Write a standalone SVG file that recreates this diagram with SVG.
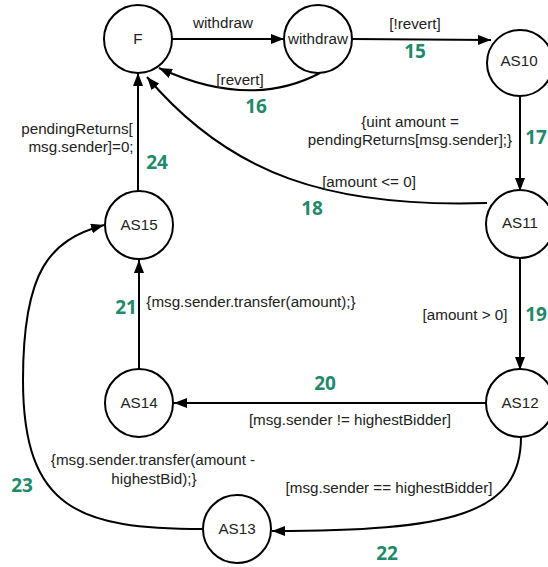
<svg xmlns="http://www.w3.org/2000/svg" width="548" height="567" viewBox="0 0 548 567">
<defs>
<style>
.node circle{fill:#fff;stroke:#000;stroke-width:2}
.node text,.lbl{font-family:"Liberation Sans",Arial,sans-serif;font-size:15.2px;fill:#222;text-anchor:middle}
.num{font-family:"Open Sans","Liberation Sans",sans-serif;font-size:19px;font-weight:bold;fill:#1f8a6a;text-anchor:middle}
.edge{fill:none;stroke:#000;stroke-width:2;marker-end:url(#arr)}
</style>
<marker id="arr" markerUnits="userSpaceOnUse" markerWidth="14" markerHeight="10" refX="13" refY="5" orient="auto">
<path d="M0,0 L13,5 L0,10 Z" fill="#000"/>
</marker>
</defs>
<rect width="548" height="567" fill="#fff"/>
<g id="connectors">
<path class="edge" d="M172,39 L284,39"/>
<path class="edge" d="M352,39 L491,40"/>
<path class="edge" d="M320,73 Q250,110 159,68"/>
<path class="edge" d="M520,96 L520,191"/>
<path class="edge" d="M487,203 C330,208 230,175 147,77"/>
<path class="edge" d="M520,258 L520,370"/>
<path class="edge" d="M486,403 L174,403"/>
<path class="edge" d="M139,369 L139,260"/>
<path class="edge" d="M138,191 L138,73"/>
<path class="edge" d="M521,437 C521,515 450,531 272,531"/>
<path class="edge" d="M203,529 C80,529 23,510 23,380 C23,270 50,240 104,225"/>
</g>
<g id="labels">
<text class="lbl" x="223" y="28">withdraw</text>
<text class="lbl" x="415" y="29">[!revert]</text>
<text class="num" x="415" y="58">15</text>
<text class="lbl" x="240" y="85">[revert]</text>
<text class="num" x="256" y="113">16</text>
<text class="lbl" x="410" y="127">{uint amount =</text>
<text class="lbl" x="410" y="145">pendingReturns[msg.sender];}</text>
<text class="num" x="536" y="144">17</text>
<text class="lbl" x="369" y="187">[amount &lt;= 0]</text>
<text class="num" x="312" y="215">18</text>
<text class="lbl" x="77" y="134">pendingReturns[</text>
<text class="lbl" x="81" y="152">msg.sender]=0;</text>
<text class="num" x="157" y="169">24</text>
<text class="lbl" x="465" y="320">[amount &gt; 0]</text>
<text class="num" x="536" y="321">19</text>
<text class="lbl" x="251" y="307">{msg.sender.transfer(amount);}</text>
<text class="num" x="126" y="314">21</text>
<text class="num" x="325" y="390">20</text>
<text class="lbl" x="350" y="425">[msg.sender != highestBidder]</text>
<text class="lbl" x="153" y="465">{msg.sender.transfer(amount -</text>
<text class="lbl" x="154" y="484">highestBid);}</text>
<text class="num" x="22" y="492">23</text>
<text class="lbl" x="389" y="493">[msg.sender == highestBidder]</text>
<text class="num" x="387" y="560">22</text>
</g>
<g id="node-F" class="node"><circle cx="138" cy="39" r="34"/><text x="138" y="44">F</text></g>
<g id="node-withdraw" class="node"><circle cx="318" cy="39" r="34"/><text x="318" y="44">withdraw</text></g>
<g id="node-AS10" class="node"><circle cx="520" cy="63" r="33"/><text x="519" y="66">AS10</text></g>
<g id="node-AS11" class="node"><circle cx="520" cy="224" r="34"/><text x="520" y="228">AS11</text></g>
<g id="node-AS12" class="node"><circle cx="520" cy="403" r="34"/><text x="520" y="408">AS12</text></g>
<g id="node-AS14" class="node"><circle cx="139" cy="403" r="34"/><text x="139" y="408">AS14</text></g>
<g id="node-AS15" class="node"><circle cx="139" cy="225" r="34"/><text x="139" y="230">AS15</text></g>
<g id="node-AS13" class="node"><circle cx="237" cy="529" r="34"/><text x="237" y="534">AS13</text></g>
</svg>
